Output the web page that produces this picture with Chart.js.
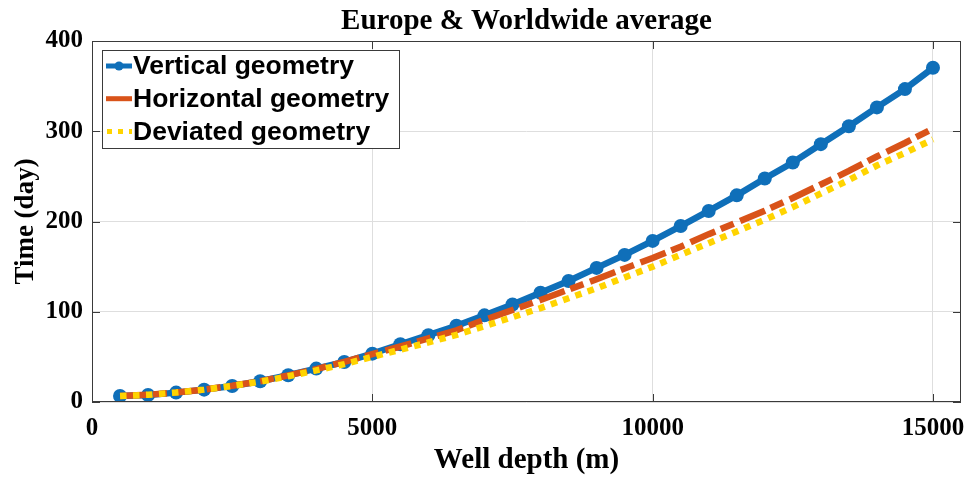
<!DOCTYPE html>
<html>
<head>
<meta charset="utf-8">
<script src="https://cdn.jsdelivr.net/npm/chart.js@4.4.1/dist/chart.umd.min.js"></script>
<style>
  html, body { margin: 0; padding: 0; background: #fff; }
</style>
</head>
<body>
<canvas id="chart" width="969" height="478"></canvas>
<script>
const BLUE = "#0f6fb9";
const ORANGE = "#d95319";
const YELLOW = "#ffd400";
const SERIF = '"Liberation Serif", "Times New Roman", serif';
const SANS = '"Liberation Sans", Arial, sans-serif';

// well depth (m)
const depths = [
  500, 1000, 1500, 2000, 2500, 3000, 3500, 4000, 4500, 5000,
  5500, 6000, 6500, 7000, 7500, 8000, 8500, 9000, 9500, 10000,
  10500, 11000, 11500, 12000, 12500, 13000, 13500, 14000, 14500, 15000,
];
// time (day)
const vertical = [
  6.7, 7.8, 10.4, 13.7, 17.8, 23, 29.6, 37, 44.3, 53.6,
  64, 74, 84.5, 96, 108, 121, 134, 148.6, 163, 178.5,
  195, 211.7, 229, 247.6, 265.4, 285.7, 305.6, 326.4, 346.7, 370.3,
];
const horizontal = [
  6.7, 8, 10.5, 13.8, 18, 23, 29.5, 36.5, 44.5, 53,
  61.5, 70.5, 79.5, 91, 102, 113, 124.5, 136, 148, 159.5,
  172, 186, 199, 212, 226, 241, 256, 272, 287, 303,
];
const deviated = [
  6.7, 8, 10.5, 13.7, 17.8, 22.5, 28.5, 35, 42, 50,
  58, 66, 74.5, 84, 94, 104, 115, 126, 138, 150,
  163, 176, 189, 202, 216, 231, 246, 262, 276, 291,
];
const xTicks = [0, 5000, 10000, 15000];
const yTicks = [0, 100, 200, 300, 400];

const pts = (ys) => depths.map((d, i) => ({ x: d, y: ys[i] }));

// box around the axes with inward ticks, plus the legend inside the plot
const frameAndLegend = {
  id: "frameAndLegend",
  afterDatasetsDraw(chart) {
    const { ctx, chartArea: a, scales } = chart;
    ctx.save();
    ctx.strokeStyle = "#3a3a3a";
    ctx.lineWidth = 1;
    ctx.strokeRect(a.left + 0.5, a.top + 0.5, a.right - a.left - 1, a.bottom - a.top - 1);
    ctx.beginPath();
    xTicks.forEach((v) => {
      const x = Math.round(scales.x.getPixelForValue(v)) + 0.5;
      ctx.moveTo(x, a.bottom); ctx.lineTo(x, a.bottom - 8);
      ctx.moveTo(x, a.top); ctx.lineTo(x, a.top + 8);
    });
    yTicks.forEach((v) => {
      const y = Math.round(scales.y.getPixelForValue(v)) + 0.5;
      ctx.moveTo(a.left, y); ctx.lineTo(a.left + 8, y);
      ctx.moveTo(a.right, y); ctx.lineTo(a.right - 8, y);
    });
    ctx.stroke();
    ctx.restore();
  },
  afterDraw(chart) {
    const { ctx, chartArea: a } = chart;
    const bx = a.left + 10, by = a.top + 9, bw = 297, bh = 98;
    ctx.save();
    ctx.fillStyle = "#fff";
    ctx.fillRect(bx, by, bw, bh);
    ctx.strokeStyle = "#3a3a3a";
    ctx.lineWidth = 1;
    ctx.strokeRect(bx + 0.5, by + 0.5, bw, bh);
    chart.data.datasets.forEach((ds, i) => {
      const y = by + 16 + i * 32.7;
      ctx.save();
      ctx.strokeStyle = ds.borderColor;
      ctx.lineWidth = 5;
      ctx.lineCap = "butt";
      ctx.setLineDash(ds.legendDash || []);
      ctx.lineDashOffset = -1;
      ctx.beginPath();
      ctx.moveTo(bx + 4, y);
      ctx.lineTo(bx + 30, y);
      ctx.stroke();
      if (ds.pointRadius) {
        ctx.fillStyle = ds.borderColor;
        ctx.beginPath();
        ctx.arc(bx + 17, y, 4.5, 0, Math.PI * 2);
        ctx.fill();
      }
      ctx.restore();
      ctx.fillStyle = "#000";
      ctx.font = "bold 26.5px " + SANS;
      ctx.textBaseline = "middle";
      ctx.textAlign = "left";
      ctx.fillText(ds.label, bx + 31, y + 1);
    });
    ctx.restore();
  },
};

new Chart(document.getElementById("chart"), {
  type: "line",
  data: {
    datasets: [
      {
        label: "Vertical geometry",
        data: pts(vertical),
        borderColor: BLUE,
        backgroundColor: BLUE,
        borderWidth: 6.5,
        pointRadius: 7,
        pointBorderWidth: 0,
        pointBackgroundColor: BLUE,
        order: 2,
      },
      {
        label: "Horizontal geometry",
        data: pts(horizontal),
        borderColor: ORANGE,
        backgroundColor: ORANGE,
        borderWidth: 6.5,
        borderDash: [27, 6, 14, 7],
        borderCapStyle: "butt",
        pointRadius: 0,
        order: 1,
      },
      {
        label: "Deviated geometry",
        data: pts(deviated),
        borderColor: YELLOW,
        backgroundColor: YELLOW,
        borderWidth: 6.5,
        borderDash: [6.5, 6.5],
        legendDash: [5, 6],
        borderCapStyle: "butt",
        pointRadius: 0,
        order: 0,
      },
    ],
  },
  options: {
    responsive: false,
    animation: false,
    layout: { padding: { left: 0, right: 8, top: 0, bottom: 0 } },
    plugins: {
      legend: { display: false },
      tooltip: { enabled: false },
      title: {
        display: true,
        fullSize: false,
        text: "Europe & Worldwide average",
        color: "#000",
        font: { family: SERIF, size: 29, weight: "bold", lineHeight: 1.2 },
        padding: { top: 4.5, bottom: 1.7 },
      },
    },
    scales: {
      x: {
        type: "linear",
        min: 0,
        max: 15500,
        afterBuildTicks: (s) => { s.ticks = xTicks.map((v) => ({ value: v })); },
        afterFit: (s) => { s.height = 76; s.paddingLeft = 0; s.paddingRight = 0; },
        grid: { color: "#dedede", drawTicks: false },
        border: { display: false },
        ticks: {
          color: "#000",
          padding: 12,
          maxRotation: 0,
          font: { family: SERIF, size: 25, weight: "bold" },
          callback: (v) => String(v),
        },
        title: {
          display: true,
          text: "Well depth (m)",
          color: "#000",
          font: { family: SERIF, size: 29, weight: "bold", lineHeight: 1.2 },
          padding: { top: 0, bottom: 0 },
        },
      },
      y: {
        min: 0,
        max: 400,
        afterBuildTicks: (s) => { s.ticks = yTicks.map((v) => ({ value: v })); },
        afterFit: (s) => { s.width = 92; s.paddingTop = 0; s.paddingBottom = 0; },
        grid: { color: "#dedede", drawTicks: false },
        border: { display: false },
        ticks: {
          color: "#000",
          padding: 9,
          font: { family: SERIF, size: 25, weight: "bold" },
          callback: (v) => String(v),
        },
        title: {
          display: true,
          text: "Time (day)",
          color: "#000",
          font: { family: SERIF, size: 27, weight: "bold", lineHeight: 1.2 },
          padding: { top: 10, bottom: 0 },
        },
      },
    },
  },
  plugins: [frameAndLegend],
});
</script>
</body>
</html>
